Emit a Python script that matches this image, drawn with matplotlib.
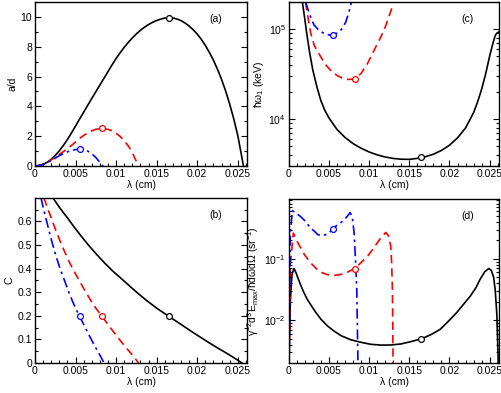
import numpy as np
from matplotlib import pyplot as plt
from matplotlib.ticker import MultipleLocator, FormatStrFormatter, LogLocator

plt.rcParams['font.family'] = ['Liberation Sans', 'DejaVu Sans']
plt.rcParams['mathtext.default'] = 'regular'

# Marker positions (lambda in cm) for black, red, blue
mark_lam = [0.0165, 0.0082, 0.0055]

# Panel (a): a/d vs lambda
a_black_x = [0, 0.0005, 0.001, 0.0015, 0.002, 0.0025, 0.003, 0.0035, 0.004, 0.0045, 0.005, 0.0055,
             0.006, 0.0065, 0.007, 0.0075, 0.008, 0.0085, 0.009, 0.0095, 0.010, 0.0105, 0.011,
             0.0115, 0.012, 0.0125, 0.013, 0.0135, 0.014, 0.0145, 0.015, 0.0155, 0.016, 0.0165,
             0.017, 0.0175, 0.018, 0.0185, 0.019, 0.0195, 0.020, 0.0205, 0.021, 0.0215, 0.022,
             0.0225, 0.023, 0.0235, 0.024, 0.0245, 0.025, 0.0255, 0.0257]
a_black_y = [0, 0.03, 0.11, 0.25, 0.45, 0.71, 1.02, 1.38, 1.78, 2.22, 2.68, 3.15,
             3.61, 4.07, 4.53, 4.98, 5.43, 5.88, 6.33, 6.78, 7.21, 7.60, 7.96,
             8.29, 8.59, 8.86, 9.10, 9.31, 9.49, 9.64, 9.76, 9.85, 9.92, 9.95,
             9.93, 9.86, 9.75, 9.59, 9.39, 9.14, 8.85, 8.50, 8.09, 7.62, 7.09,
             6.49, 5.81, 5.04, 4.16, 3.17, 2.05, 0.60, 0.0]
a_red_x = [0, 0.0005, 0.001, 0.0015, 0.002, 0.0025, 0.003, 0.0035, 0.004, 0.0045, 0.005, 0.0055,
           0.006, 0.0065, 0.007, 0.0075, 0.008, 0.0085, 0.009, 0.0095, 0.010, 0.0105, 0.011,
           0.0115, 0.012, 0.0125, 0.0127]
a_red_y = [0, 0.03, 0.11, 0.24, 0.41, 0.59, 0.78, 0.97, 1.16, 1.38, 1.62, 1.85,
           2.05, 2.22, 2.36, 2.46, 2.51, 2.51, 2.46, 2.36, 2.20, 1.98, 1.70,
           1.35, 0.90, 0.30, 0.0]
a_blue_x = [0, 0.0005, 0.001, 0.0015, 0.002, 0.0025, 0.003, 0.0035, 0.004, 0.0045, 0.005, 0.0055,
            0.006, 0.0065, 0.007, 0.0075, 0.008, 0.0084]
a_blue_y = [0, 0.03, 0.11, 0.23, 0.37, 0.53, 0.69, 0.83, 0.95, 1.04, 1.10, 1.13,
            1.10, 1.00, 0.82, 0.57, 0.25, 0.0]
a_marks = [9.95, 2.52, 1.13]

# Panel (b): C vs lambda
b_C = [0.70, 0.68, 0.66, 0.637, 0.615, 0.582, 0.546, 0.503, 0.46, 0.423, 0.389, 0.356, 0.325,
       0.292, 0.261, 0.230, 0.200, 0.175, 0.152, 0.129, 0.107, 0.085, 0.064, 0.044, 0.025,
       0.012, 0.0]
b_black_x = [0.0022, 0.0026, 0.0030, 0.0035, 0.0040, 0.0047, 0.0055, 0.0065, 0.0076, 0.0086,
             0.0096, 0.0107, 0.0117, 0.0128, 0.0139, 0.0151, 0.0164, 0.0175, 0.0185, 0.0195,
             0.0205, 0.0215, 0.0225, 0.0235, 0.0244, 0.0250, 0.0255]
b_red_x = [0.0011, 0.0013, 0.0015, 0.00175, 0.0020, 0.00235, 0.00275, 0.00325, 0.0038, 0.0043,
           0.0048, 0.00535, 0.00585, 0.0064, 0.00695, 0.00755, 0.0082, 0.00875, 0.00925, 0.00975,
           0.01025, 0.01075, 0.01125, 0.01175, 0.0122, 0.0125, 0.01275]
b_blue_x = [0.00073, 0.00087, 0.0010, 0.00117, 0.00133, 0.00157, 0.00183, 0.00217, 0.00253,
            0.00287, 0.0032, 0.00357, 0.0039, 0.00427, 0.00463, 0.00503, 0.00547, 0.00583,
            0.00617, 0.0065, 0.00683, 0.00717, 0.0075, 0.00783, 0.00813, 0.00833, 0.0085]
b_marks = [0.20, 0.20, 0.20]

# Panel (c): hbar omega_1 (keV) vs lambda
c_black_x = [0.0017, 0.002, 0.00224, 0.0026, 0.003, 0.0035, 0.004, 0.0045, 0.005, 0.006, 0.007,
             0.008, 0.009, 0.010, 0.011, 0.012, 0.013, 0.014, 0.015, 0.016, 0.017, 0.018,
             0.019, 0.020, 0.021, 0.022, 0.023, 0.0235, 0.024, 0.0245, 0.025, 0.0254, 0.0257,
             0.0259, 0.0262]
c_black_y = [2.0e5, 1.3e5, 9.0e4, 5.5e4, 3.5e4, 2.29e4, 1.6e4, 1.245e4, 1.03e4, 7670, 6240,
             5330, 4730, 4300, 3990, 3780, 3640, 3570, 3556, 3648, 3802, 4055,
             4467, 5105, 6166, 7943, 11750, 15490, 21380, 31620, 50120, 69180, 85110,
             90160, 93330]
c_red_x = [0.0021, 0.0024, 0.00274, 0.0032, 0.004, 0.0045, 0.0052, 0.006, 0.0069, 0.0075, 0.0082,
           0.009, 0.0098, 0.0105, 0.011, 0.0115, 0.012, 0.0125, 0.013]
c_red_y = [2.0e5, 1.35e5, 9.0e4, 6.5e4, 4.9e4, 4.1e4, 3.48e4, 3.05e4, 2.78e4, 2.75e4, 2.8e4,
           3.2e4, 4.13e4, 5.5e4, 6.8e4, 8.3e4, 1.05e5, 1.4e5, 1.9e5]
c_blue_x = [0.0021, 0.0026, 0.00315, 0.0038, 0.0044, 0.005, 0.0055, 0.006, 0.0064, 0.00668,
            0.0071, 0.0075, 0.0078]
c_blue_y = [2.0e5, 1.45e5, 1.11e5, 9.6e4, 8.96e4, 8.6e4, 8.58e4, 9.0e4, 9.6e4, 1.02e5,
            1.2e5, 1.55e5, 2.0e5]
c_marks = [3740, 2.8e4, 8.58e4]

# Panel (d): gamma^-2 d^3 E_max / hbar dw dOmega (sr^-1) vs lambda
d_black_x = [0.00003, 0.0002, 0.0004, 0.00066, 0.0009, 0.00107, 0.0015, 0.0019, 0.0023, 0.0027,
             0.0033, 0.004, 0.0048, 0.0056, 0.0065, 0.0077, 0.009, 0.0102, 0.0115, 0.0127, 0.014,
             0.0153, 0.0166, 0.0178, 0.01885, 0.0199, 0.0209, 0.0218, 0.0226, 0.0233, 0.0238,
             0.0244, 0.0249, 0.0252, 0.0255, 0.0257, 0.0259, 0.0261]
d_black_y = [1.5e-3, 0.02, 0.055, 0.0697, 0.06, 0.0522, 0.037, 0.0281, 0.022, 0.0182,
             0.0138, 0.0104, 0.0081, 0.0067, 0.0056, 0.0048, 0.00435, 0.00404, 0.00392, 0.00393,
             0.0041, 0.0045, 0.005, 0.0059, 0.0071, 0.0097, 0.0133, 0.0185, 0.0248, 0.034, 0.0462,
             0.062, 0.0697, 0.065, 0.05, 0.03, 0.012, 1.5e-3]
d_red_x = [0.00003, 0.0002, 0.00058, 0.0009, 0.00149, 0.002, 0.00274, 0.0033, 0.004, 0.0048,
           0.0056, 0.0065, 0.0073, 0.0082, 0.009, 0.0098, 0.0104, 0.011, 0.0115, 0.01208, 0.0124,
           0.0127, 0.0128, 0.0129, 0.01295, 0.01299]
d_red_y = [1.5e-3, 0.08, 0.264, 0.21, 0.151, 0.115, 0.0861, 0.072, 0.0607, 0.0553,
           0.0536, 0.0558, 0.0607, 0.0697, 0.087, 0.110, 0.140, 0.181, 0.225, 0.27, 0.24,
           0.16, 0.09, 0.0317, 0.008, 1.5e-3]
d_blue_x = [0.00003, 0.0002, 0.00045, 0.0008, 0.00149, 0.002, 0.00274, 0.0033, 0.0036, 0.004,
            0.0045, 0.005, 0.0055, 0.006, 0.0067, 0.0072, 0.00764, 0.0079, 0.00814, 0.0083,
            0.00847, 0.00863]
d_blue_y = [1.5e-3, 0.25, 0.614, 0.57, 0.49, 0.42, 0.318, 0.275, 0.25, 0.242,
            0.245, 0.265, 0.306, 0.355, 0.41, 0.48, 0.569, 0.5, 0.264, 0.1,
            0.0317, 1.5e-3]
d_marks = [0.005, 0.0697, 0.306]

colors = ['black', 'red', 'blue']
dashes = [None, [5, 3], [6, 2.5, 1.5, 2.5]]
fs = 7.5

fig = plt.figure(figsize=(5.02, 3.93), dpi=100)
W, H = 502.0, 393.0
ax_a = fig.add_axes([35 / W, 1 - 166 / H, 212.5 / W, 164 / H])
ax_b = fig.add_axes([35 / W, 1 - 363 / H, 212.5 / W, 165 / H])
ax_c = fig.add_axes([288.7 / W, 1 - 166 / H, 210.6 / W, 164 / H])
ax_d = fig.add_axes([288.7 / W, 1 - 363 / H, 210.6 / W, 164 / H])

panels = [
    (ax_a, [(a_black_x, a_black_y), (a_red_x, a_red_y), (a_blue_x, a_blue_y)], a_marks, '(a)', 'a/d'),
    (ax_b, [(b_black_x, b_C), (b_red_x, b_C), (b_blue_x, b_C)], b_marks, '(b)', 'C'),
    (ax_c, [(c_black_x, c_black_y), (c_red_x, c_red_y), (c_blue_x, c_blue_y)], c_marks, '(c)',
     'ħω$_1$ (keV)'),
    (ax_d, [(d_black_x, d_black_y), (d_red_x, d_red_y), (d_blue_x, d_blue_y)], d_marks, '(d)',
     'γ$^{-2}$d$^3$E$_{max}$/ħdωdΩ (sr$^{-1}$)'),
]

for ax, series, marks, tag, ylab in panels:
    for i, (xs, ys) in enumerate(series):
        line, = ax.plot(xs, ys, color=colors[i], lw=1.2, zorder=2)
        if dashes[i] is not None:
            line.set_dashes(dashes[i])
        ax.plot(mark_lam[i], marks[i], 'o', ms=4.2, mfc='white', mec=colors[i], mew=0.9, zorder=3)
    ax.set_xlim(0, 0.0262)
    ax.xaxis.set_major_locator(MultipleLocator(0.005))
    ax.xaxis.set_minor_locator(MultipleLocator(0.001))
    ax.xaxis.set_major_formatter(FormatStrFormatter('%g'))
    ax.tick_params(which='both', direction='in', right=True, top=False, labelsize=fs, pad=2)
    ax.tick_params(which='major', length=4.5, width=0.8)
    ax.tick_params(which='minor', length=2.5, width=0.8)
    ax.set_xlabel('λ (cm)', fontsize=fs, labelpad=1)
    ax.set_ylabel(ylab, fontsize=fs, labelpad=2)
    ax.text(0.82, 0.88, tag, transform=ax.transAxes, fontsize=fs)
    for s in ax.spines.values():
        s.set_linewidth(1.0)

ax_a.set_ylim(0, 11)
ax_a.yaxis.set_major_locator(MultipleLocator(2))
ax_a.yaxis.set_minor_locator(MultipleLocator(1))

ax_b.set_ylim(0, 0.699)
ax_b.yaxis.set_major_locator(MultipleLocator(0.1))
ax_b.yaxis.set_minor_locator(MultipleLocator(0.05))
ax_b.yaxis.set_major_formatter(FormatStrFormatter('%g'))

ax_c.set_yscale('log')
ax_c.set_ylim(3000, 2e5)
ax_d.set_yscale('log')
ax_d.set_ylim(2e-3, 0.95)
for ax in (ax_c, ax_d):
    ax.yaxis.set_major_locator(LogLocator(base=10))
    ax.yaxis.set_minor_locator(LogLocator(base=10, subs=np.arange(2, 10)))

plt.savefig('out.png', dpi=100)
